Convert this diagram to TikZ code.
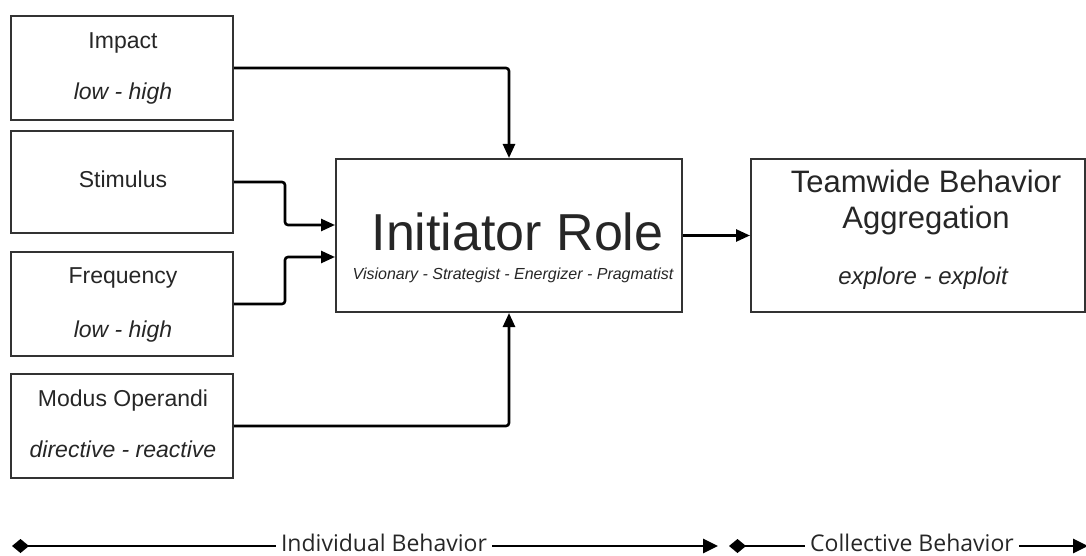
\documentclass[tikz,border=0pt]{standalone}
\usepackage{fontspec}
\setmainfont{Liberation Sans}
\newfontfamily\osans{Open Sans}
\usetikzlibrary{arrows.meta,calc}
\begin{document}
\begin{tikzpicture}[x=1pt,y=-1pt,
  box/.style={draw=black!80,line width=2pt,rectangle,inner sep=0pt},
  conn/.style={draw=black,line width=2.6pt,rounded corners=3pt,-{Triangle[length=14pt,width=12pt]}},
  lbl/.style={anchor=base,inner sep=0pt,text=black!85},
  small/.style={font=\fontsize{23}{27}\selectfont},
  smallit/.style={font=\fontsize{23}{27}\selectfont\itshape},
  axis/.style={draw=black,line width=2.8pt},
  axtxt/.style={anchor=base,inner xsep=5pt,inner ysep=0pt,font=\osans\fontsize{23}{27}\selectfont,text=black!85}]
\useasboundingbox (0,0) rectangle (1086,556);
% left boxes
\node[box,minimum width=222pt,minimum height=104pt] (impact) at (122,68) {};
\node[box,minimum width=222pt,minimum height=102pt] (stim) at (122,182) {};
\node[box,minimum width=222pt,minimum height=104pt] (freq) at (122,304) {};
\node[box,minimum width=222pt,minimum height=104pt] (modus) at (122,426) {};
\node[lbl,small] (impactT) at (123,49) {Impact};
\node[lbl,smallit] (impactS) at (123,100) {low - high};
\node[lbl,small] (stimT) at (123,188) {Stimulus};
\node[lbl,small] (freqT) at (123,283) {Frequency};
\node[lbl,smallit] (freqS) at (123,337) {low - high};
\node[lbl,small] (modusT) at (123,406) {Modus Operandi};
\node[lbl,smallit] (modusS) at (123,457) {directive - reactive};
% initiator
\node[box,minimum width=346pt,minimum height=153pt] (init) at (509,235.5) {};
\node[lbl,font=\fontsize{52}{60}\selectfont] (initT) at (517.5,250) {Initiator Role};
\node[lbl,font=\fontsize{16}{19}\selectfont\itshape] (initS) at (513,279) {Visionary - Strategist - Energizer - Pragmatist};
% teamwide
\node[box,minimum width=334pt,minimum height=153pt] (team) at (918,235.5) {};
\node[lbl,font=\fontsize{31}{36}\selectfont] (teamT1) at (926,193) {Teamwide Behavior};
\node[lbl,font=\fontsize{31}{36}\selectfont] (teamT2) at (926,228) {Aggregation};
\node[lbl,font=\fontsize{24}{28}\selectfont\itshape] (teamS) at (923,284) {explore - exploit};
% connectors
\coordinate (jx) at (285,0);
\coordinate (sin) at ([yshift=10.5pt]init.west);
\coordinate (fin) at ([yshift=-21.5pt]init.west);
\draw[conn] (impact.east) -| (init.north);
\draw[conn] (stim.east) -- (stim.east -| jx) -- (jx |- sin) -- (sin);
\draw[conn] (freq.east) -- (freq.east -| jx) -- (jx |- fin) -- (fin);
\draw[conn] (modus.east) -| (init.south);
\draw[conn] (init.east) -- (team.west);
% bottom axis
\coordinate (b1) at (12,546);
\coordinate (b2) at (718,546);
\coordinate (b3) at (729,546);
\coordinate (b4) at (1088,546);
\node[axtxt] (ind) at (384,551) {Individual Behavior};
\node[axtxt] (coll) at (912,551) {Collective Behavior};
\draw[axis,{Diamond[length=17pt,width=14pt]}-] (b1) -- (b1 -| ind.west);
\draw[axis,-{Triangle[length=15pt,width=14pt]}] (b1 -| ind.east) -- (b2);
\draw[axis,{Diamond[length=17pt,width=14pt]}-] (b3) -- (b3 -| coll.west);
\draw[axis,-{Triangle[length=15pt,width=14pt]}] (b3 -| coll.east) -- (b4);
\end{tikzpicture}
\end{document}
